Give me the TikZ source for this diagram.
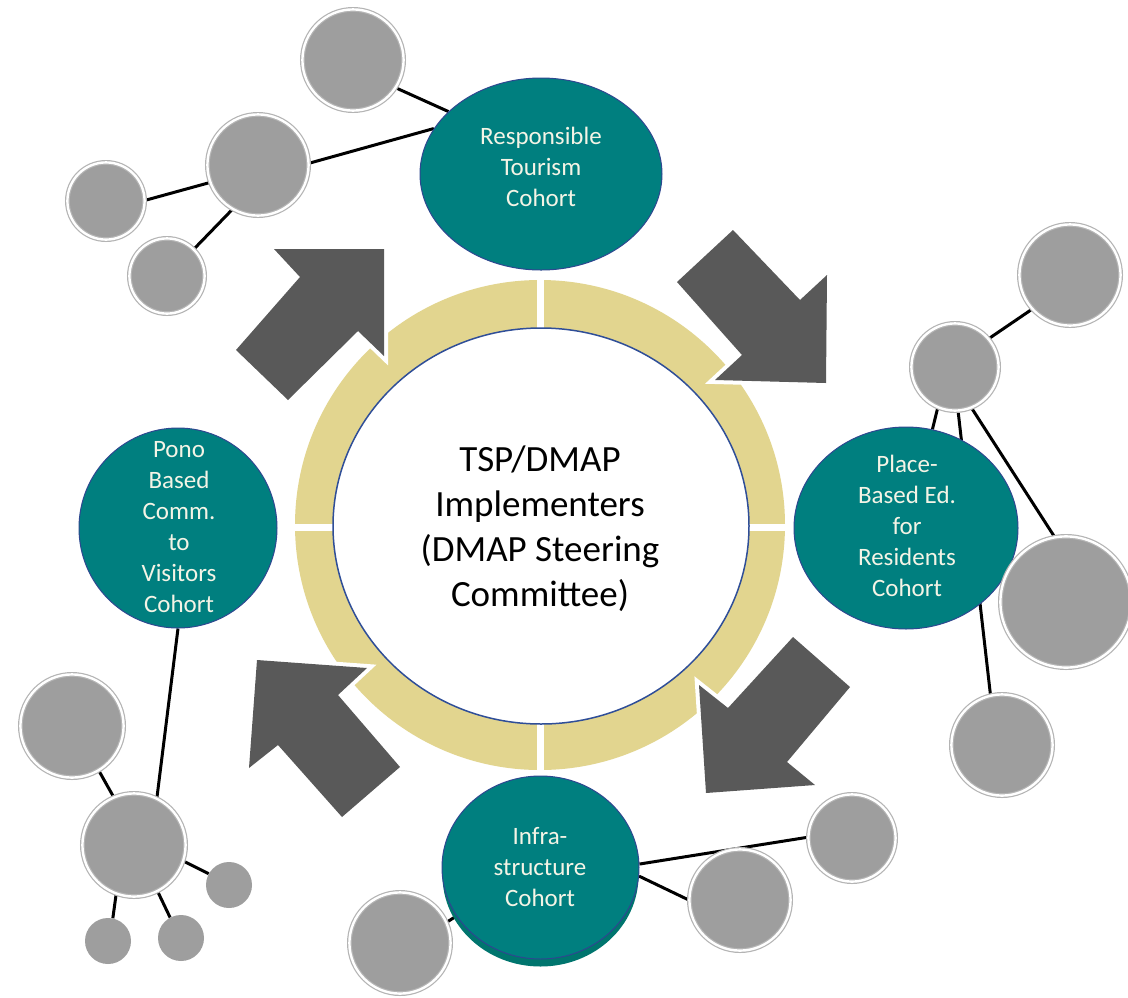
\documentclass[tikz,border=0pt]{standalone}
\usepackage{fontspec}
\setmainfont{Carlito}
\usetikzlibrary{shapes.geometric}

\definecolor{cohortteal}{HTML}{007F7F}
\definecolor{cohortedge}{HTML}{2E4790}
\definecolor{cohortink}{HTML}{F4F4E6}
\definecolor{shadowteal}{HTML}{00756E}
\definecolor{bubblefill}{HTML}{9E9E9E}
\definecolor{bubbleedge}{HTML}{B4B4B4}
\definecolor{ringtan}{HTML}{E2D58F}
\definecolor{coreedge}{HTML}{2F4E98}
\definecolor{flowgray}{HTML}{595959}

\pgfdeclarelayer{paper}
\pgfdeclarelayer{links}
\pgfsetlayers{paper,links,main}

\tikzset{
  bubble/.style={circle, inner sep=0pt, fill=bubblefill, draw=bubbleedge,
    line width=1.2pt, double=white, double distance=2.4pt, minimum size=#1},
  pebble/.style={circle, inner sep=0pt, fill=bubblefill, minimum size=#1},
  cohort/.style={ellipse, inner sep=0pt, fill=cohortteal, draw=cohortedge, line width=1pt},
  cohorttext/.style={align=center, text=cohortink, inner sep=0pt,
    font=\fontsize{25}{31}\selectfont},
  coretext/.style={align=center, text=black, inner sep=0pt,
    font=\fontsize{37}{45}\selectfont},
  link/.style={line width=3pt, black},
  halo/.style={draw=white, fill=white, line width=8pt, line join=miter},
  flow/.style={fill=flowgray},
}

% block arrow with a white halo around it
\newcommand\flowarrow[1]{\path[halo] #1 -- cycle; \path[flow] #1 -- cycle;}

\begin{document}
\begin{tikzpicture}[x=1pt, y=-1pt]
\useasboundingbox (0,0) rectangle (1128,997);
\begin{pgfonlayer}{paper}
  \fill[white] (0,0) rectangle (1128,997);
\end{pgfonlayer}

% central ring split into four quarters
\fill[ringtan] (540,525) circle (245);
\draw[white, line width=7pt] (540,270) -- (540,780);
\draw[white, line width=7pt] (285,527) -- (795,527);
\node[ellipse, fill=white, draw=coreedge, line width=1.5pt, inner sep=0pt,
      minimum width=416, minimum height=396] (core) at (541,526) {};
\node[coretext] (coretitle) at (540,530)
  {\strut TSP/DMAP\\Implementers\\(DMAP Steering\\Committee)\strut};

% cycle arrows
\flowarrow{(236,350) -- (300,277) -- (274,249) -- (384,249) -- (384,356) -- (358,331) -- (288,400)}
\flowarrow{(677,282) -- (742,355) -- (715,380) -- (826,383) -- (827,275) -- (800,300) -- (733,230)}
\flowarrow{(793,637) -- (728,708) -- (699,685) -- (706,793) -- (815,785) -- (787,762) -- (850,687)}
\flowarrow{(400,767) -- (338,695) -- (367,668) -- (257,660) -- (249,768) -- (278,745) -- (342,817)}

% cohorts
\node[cohort, minimum width=242, minimum height=192] (tour) at (541,174) {};
\node[cohorttext] (tourtext) at (541,169) {\strut Responsible\\Tourism\\Cohort\strut};

\node[cohort, minimum width=224, minimum height=202] (place) at (906,528) {};
\node[cohorttext] (placetext) at (907,528.5) {\strut Place-\\Based Ed.\\for\\Residents\\Cohort\strut};

\node[cohort, minimum width=198, minimum height=200] (pono) at (178,528) {};
\node[cohorttext] (ponotext) at (179,528.5) {\strut Pono\\Based\\Comm.\\to\\Visitors\\Cohort\strut};

\fill[shadowteal] (540.5,875.5) ellipse (98 and 91);
\node[cohort, minimum width=197, minimum height=183] (infra) at (540.5,867.5) {};
\node[cohorttext] (infratext) at (540,869) {\strut Infra-\\structure\\Cohort\strut};

% member circles, tourism group
\node[bubble=101.2pt] (ta) at (353,60) {};
\node[bubble=101.2pt] (tb) at (258,165) {};
\node[bubble=77.2pt]  (tc) at (106,201) {};
\node[bubble=75.2pt]  (td) at (167,276) {};

% place-based group
\node[bubble=101.2pt] (pk) at (1070,275) {};
\node[bubble=87.2pt]  (pl) at (955,367) {};
\node[bubble=131.2pt] (pm) at (1066,602) {};
\node[bubble=101.2pt] (pn) at (1002,745) {};

% pono group
\node[bubble=103.2pt] (ve) at (72,726) {};
\node[bubble=103.2pt] (vf) at (134,845) {};
\node[pebble=46pt]    (vg) at (229,885) {};
\node[pebble=46pt]    (vh) at (108,941) {};
\node[pebble=46pt]    (vi) at (181,938) {};

% infrastructure group
\node[bubble=101.2pt] (ij) at (400,943) {};
\node[bubble=101.2pt] (io) at (740,900) {};
\node[bubble=87.2pt]  (ip) at (852,838) {};

% connectors, behind every shape
\begin{pgfonlayer}{links}
  \draw[link] (ta.-33) -- (tour.146);
  \draw[link] (tb.2) -- (tour.157);
  \draw[link] (tb.200) -- (tc.1);
  \draw[link] (tb.240) -- (td.45);

  \draw[link] (pk.-138) -- (pl.40);
  \draw[link] (pl.-113) -- (place.75);
  \draw[link] (pl.-86) -- (pn.103);
  \draw[link] (pl.-68) -- (pm.100);

  \draw[link] (pono.-90) -- (vf.64);
  \draw[link] (ve.-59) -- (vf.113);
  \draw[link] (vf.-18) -- (vg.151);
  \draw[link] (vf.-110) -- (vh.78);
  \draw[link] (vf.-63) -- (vi.118);

  \draw[link] (ij.24) -- (infra.210);
  \draw[link] (infra.2) -- (ip.179);
  \draw[link] (infra.-5) -- (io.180);
\end{pgfonlayer}
\end{tikzpicture}
\end{document}
